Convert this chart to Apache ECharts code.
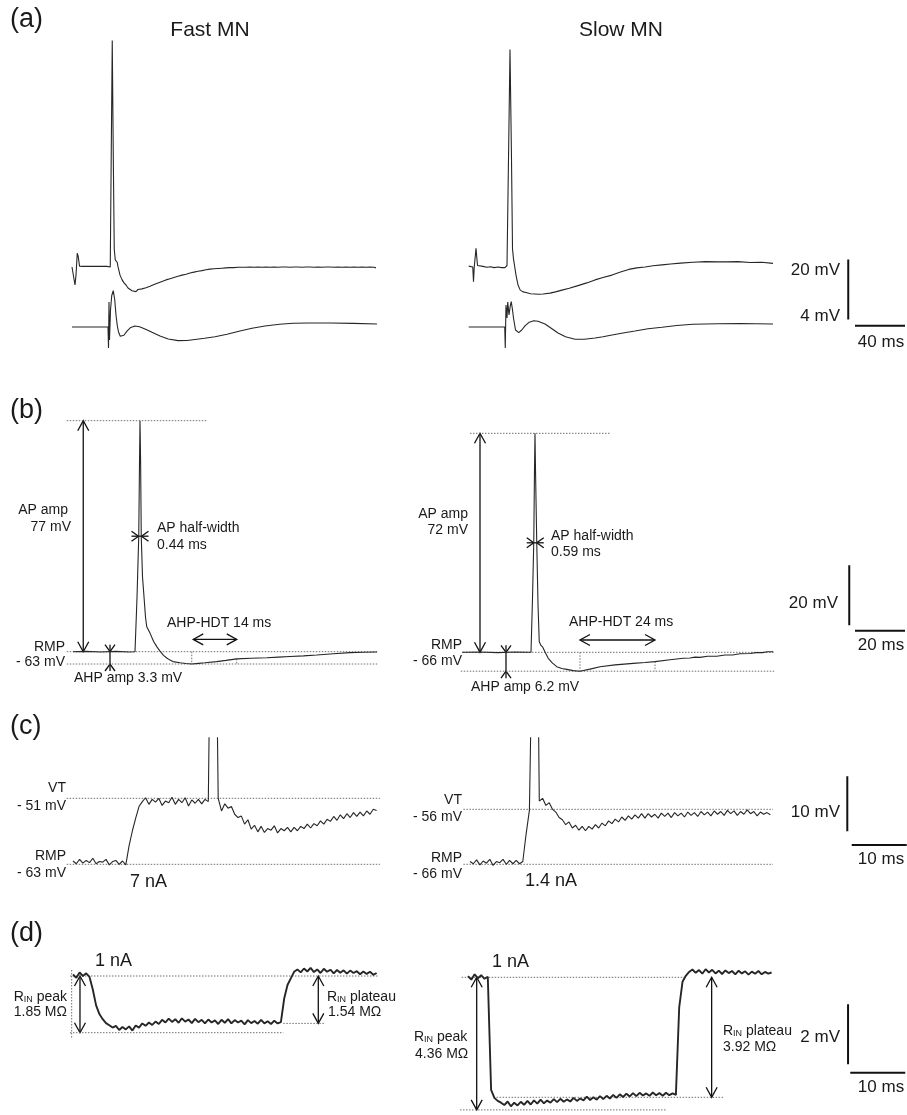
<!DOCTYPE html>
<html><head><meta charset="utf-8">
<script src="https://cdn.jsdelivr.net/npm/echarts@6/dist/echarts.min.js"></script>
<style>html,body{margin:0;padding:0;background:#fff}#c{width:907px;height:1115px}</style>
</head><body><div id="c"></div>
<script>
// ---------------- DATA ----------------
// (a) Fast MN: [ms, mV] membrane potential up to the spike shoulder
const aFastTop = [[0,-63],[1.2,-63.3],[2.4,-69],[3.2,-65.7],[4.2,-58.4],[5,-59.5],[6,-62.7],[7.2,-63.1],
 [8.8,-62.8],[10.4,-63.3],[12,-62.8],[13.6,-63.3],[15.2,-62.8],[16.8,-63.3],[18.4,-62.8],[20,-63.3],[21.6,-62.8],[23.2,-63.3],[24.8,-62.8],[26.4,-63.3],[28,-62.8],[29.6,-63.3],[30.6,-63],
 [31.4,-25],[32.2,12.5],[33,-25],[33.8,-57],[34.6,-60.6],[35.6,-60.2],[36.2,-61.5]];
// (a) Fast MN recovery, sampled every 1.6 ms from 36.8 ms (mV)
const aFastRecT0 = 36.8, aFastRecDT = 1.6;
const aFastRec = [-62.9,-65.7,-67.2,-68.3,-69.0,-70.0,-70.0,-70.9,-70.5,-71.2,-70.5,-71.0,-70.3,-70.7,-69.9,-70.3,-69.4,-69.7,-68.8,-69.1,
 -68.3,-68.6,-67.8,-68.2,-67.3,-67.7,-66.9,-67.3,-66.5,-66.9,-66.1,-66.5,-65.7,-66.2,-65.4,-65.8,-65.0,-65.4,-64.7,-65.2,
 -64.4,-64.9,-64.2,-64.6,-63.9,-64.4,-63.7,-64.2,-63.6,-64.0,-63.5,-63.8,-63.4,-63.7,-63.3,-63.6,-63.2,-63.5,-63.2,-63.5,
 -63.1,-63.4,-63.1,-63.4,-63.1,-63.4,-63.0,-63.4,-63.1,-63.4,-63.0,-63.4,-63.1,-63.3,-63.0,-63.4,-63.1,-63.4,-63.0,-63.4,
 -63.1,-63.4,-63.0,-63.3,-63.0,-63.4,-63.1,-63.4,-63.0,-63.3,-63.0,-63.4,-63.1,-63.4,-63.0,-63.3,-63.0,-63.4,-63.1,-63.4,
 -63.0,-63.4,-63.1,-63.3,-63.0,-63.4,-63.0,-63.4,-63.1,-63.4,-63.0,-63.3,-63.1,-63.4,-63.0,-63.4,-63.1,-63.4,-63.0,-63.3,
 -63.1,-63.4,-63.0,-63.4,-63.1,-63.4,-63.0,-63.4,-63.1,-63.3];
const aFastBot = [[0,0],[28.8,0],[29.2,-1.4],[29.6,1.67],[30,-0.87],[30.8,1.13],[31.8,2.1],[33,2.42],[34.2,1.8],[35.2,0.8],[36.2,0.1],[37.2,-0.33],[38.6,-0.62],[39.8,-0.69],[41.5,-0.55],[44,-0.27],[47,-0.03],[50.4,0.07],[54,0.02],[58.4,-0.13],[64,-0.35],[70.4,-0.6],[77,-0.8],[84.8,-0.91],[92,-0.9],[98.4,-0.83],[106,-0.75],[114.4,-0.65],[124,-0.48],[134.4,-0.27],[144,-0.08],[154.4,0.07],[166,0.18],[176.8,0.25],[190,0.27],[206.4,0.27],[225,0.24],[244,0.2]];
// (a) Slow MN
const aSlowTop = [[0.6,-65.7],[2,-66],[3.8,-66],[4.4,-70.9],[5,-66],[6.4,-59.8],[7.6,-65.5],[8.8,-66],[12,-65.8],[15,-66.1],[18,-65.9],[21,-66.2],[24,-66],[27,-66.2],[29.6,-66.2],[31.2,-65.5],[32.4,-30],[33.6,6.5],[34.8,-30],[35.6,-60],[36.4,-63.3],[37.4,-66],[38.4,-68.7],[40,-72],[41.8,-73.7],[44,-74.3],[46.4,-74.5],[50,-74.9],[53.5,-75],[56.6,-75.1],[60,-75],[65.6,-74.7],[70,-74.3],[75.2,-73.7],[81,-73.1],[88,-72.2],[95,-71.3],[101.6,-70.3],[108,-69.5],[115.2,-68.7],[122,-67.7],[128.6,-66.8],[135,-66.3],[141.6,-66],[148,-65.6],[155.2,-65.3],[162,-65],[170,-64.7],[180,-64.4],[190,-64.2],[200,-64.3],[207.2,-64.3],[216,-64.2],[225.6,-64.5],[235,-64.4],[244,-64.8]];
const aSlowBot = [[0.6,0],[29.4,0],[29.8,-1.4],[30.4,1.47],[31.2,0.6],[31.8,1.67],[32.8,0.8],[33.8,1.4],[34.6,1.69],[35.5,1.2],[36.4,0.6],[38,-0.2],[40.6,-0.38],[43,-0.2],[45.6,0.07],[49,0.32],[52.6,0.42],[56,0.38],[61.6,0.2],[66,-0.05],[72,-0.4],[78,-0.65],[85.6,-0.82],[93,-0.82],[101.6,-0.73],[108,-0.65],[115.2,-0.53],[124,-0.4],[133.6,-0.27],[144,-0.12],[155.2,-0.02],[167,0.1],[180,0.18],[200,0.22],[217.6,0.23],[230,0.22],[244,0.2]];
const aScaleV = [[304.2,-63.5],[304.2,-83.5]];   // 20 mV / 4 mV
const aScaleH = [[309.6,-85.6],[349.6,-85.6]];   // 40 ms

// (b) single action potentials [ms, mV]
const bFast = [[2.8,-63],[8,-62.9],[14,-63.1],[20,-62.9],[25,-63.1],[27.6,-63],[28.4,-45],[29.1,-24.5],[29.4,0],[29.6,14],[29.85,0],[30.1,-24.5],[30.6,-38],[31.2,-44.7],[31.8,-51.5],[32.3,-54.7],[32.6,-54.5],[33.6,-56.8],[35,-59.5],[36.3,-61.3],[37.6,-62.8],[39,-64.2],[40.3,-65.1],[41.6,-65.8],[42.8,-66.3],[45.6,-66.7],[48,-66.95],[50.3,-67.1],[53,-66.9],[55.6,-66.7],[60.3,-66.3],[64,-65.9],[68.3,-65.4],[74,-65.2],[80.3,-65],[85,-64.8],[89.6,-64.6],[95,-64.4],[100.3,-64.1],[107,-63.7],[113.6,-63.3],[119,-63.2],[124.4,-63.1]];
const bSlow = [[0.8,-66],[8,-65.9],[15,-66.1],[22,-65.9],[28.4,-66],[29,-48],[29.5,-29.5],[29.8,-5],[30,7],[30.2,-5],[30.7,-29.5],[31.2,-50],[31.7,-62.5],[32.3,-63.6],[33.1,-64.3],[34.2,-66.2],[35.3,-68],[37,-69.6],[38.7,-70.8],[40.7,-71.4],[42.7,-71.7],[45.3,-72.1],[48,-72.3],[52,-71.6],[56,-70.8],[62,-70.2],[69.3,-69.7],[74,-69.4],[78,-69.1],[84,-68.5],[89.3,-68],[92,-67.9],[94,-67.6],[96,-67.7],[99,-67.3],[102.7,-67.3],[106,-66.9],[109,-66.9],[112,-66.5],[116,-66.4],[118.5,-66.1],[121,-66.1],[123,-65.8],[125.3,-65.8]];
const bFastPeakLine = [[0.3,14],[56.3,14]];
const bFastRmpLine  = [[0.3,-63],[124.8,-63]];
const bFastAhpLine  = [[0.3,-67.1],[124.8,-67.1]];
const bFastTicks    = [[[50.3,-63],[50.3,-67.1]],[[68.3,-65.4],[68.3,-67.1]]];
const bSlowPeakLine = [[4,7],[60.3,7]];
const bSlowRmpLine  = [[1.2,-66],[126,-66]];
const bSlowAhpLine  = [[0.3,-72.3],[126,-72.3]];
const bSlowTicks    = [[[48,-66],[48,-72.3]],[[78,-69.1],[78,-72.3]]];
// arrows: [x1,y1,x2,y2, mode] mode 0 = outward heads, 1 = inward chevrons
const bFastArrows = [[6.9,-63,6.9,14,0],[17.6,-63,17.6,-67.1,1],[29.0,-24.5,30.2,-24.5,1],[50.9,-58.9,68.3,-58.9,0]];
const bSlowArrows = [[8,-66,8,7,0],[18.4,-66,18.4,-72.3,1],[29.5,-29.5,30.7,-29.5,1],[48,-61.9,78,-61.9,0]];
const bScaleV = [[155.7,-37],[155.7,-57]];  // 20 mV
const bScaleH = [[158,-58.8],[178,-58.8]];  // 20 ms

// (c) threshold, sampled every 0.6 ms (mV)
const DT = 0.6;
const cFast = [-62.4,-62.9,-62.1,-62.8,-62.3,-62.7,-61.9,-62.9,-62.5,-62.6,-62.1,-63.1,-62.5,-62.3,-63.0,-62.4,-63.1,-59.6,-56.9,-54.6,
 -52.5,-51.6,-50.9,-52.1,-51.2,-51.7,-51.0,-52.3,-51.5,-51.8,-50.8,-52.1,-51.2,-51.8,-50.9,-52.4,-51.3,-51.9,-51.2,-52.0,
 -51.2,-51.6,0,0,-51.0,-53.3,-52.0,-52.8,-52.5,-53.9,-54.5,-54.2,-55.7,-54.9,-56.6,-55.9,-57.1,-56.1,-57.2,-56.5,
 -56.8,-56.0,-57.3,-56.5,-56.9,-56.3,-57.1,-56.3,-56.9,-56.1,-56.5,-55.7,-56.4,-55.6,-56.0,-55.1,-55.7,-54.8,-55.2,-54.3,
 -55.0,-54.0,-54.7,-53.8,-54.5,-53.6,-54.3,-53.5,-54.2,-53.3,-53.9,-53.0,-53.2];
const cSlow = [-65.5,-65.9,-65.2,-66.1,-65.4,-65.8,-65.1,-66.2,-65.5,-65.7,-65.1,-66.0,-65.3,-65.9,-65.3,-65.9,-65.5,-60.5,-56.2,-20,
 5,-54.5,-54.0,-55.3,-54.8,-56.0,-56.5,-57.5,-57.9,-58.8,-58.3,-59.4,-58.9,-59.8,-59.1,-59.9,-59.1,-59.6,-58.8,-59.4,
 -58.5,-59.0,-58.1,-58.6,-57.8,-58.3,-57.4,-58.0,-57.2,-57.8,-57.0,-57.6,-56.8,-57.6,-56.8,-57.4,-56.9,-57.6,-56.7,-57.3,
 -56.7,-57.5,-56.6,-57.2,-56.7,-57.4,-56.5,-57.1,-56.6,-57.3,-56.4,-57.0,-56.5,-57.2,-56.3,-56.9,-56.4,-57.1,-56.2,-56.8,
 -56.3,-57.1,-56.4,-56.9,-56.1,-56.8,-56.4,-57.2,-56.5,-56.9,-56.6,-57.0];
const cFastVT  = [[-1.15,-51],[55.8,-51]];
const cFastRMP = [[-1.15,-63],[55.8,-63]];
const cSlowVT  = [[-1.2,-56],[55.1,-56]];
const cSlowRMP = [[-1.2,-66],[55.1,-66]];
const cScaleV = [[68.6,-50],[68.6,-60]];   // 10 mV
const cScaleH = [[69.4,-62.5],[79.4,-62.5]]; // 10 ms

// (d) input resistance, sampled every 0.6 ms (mV from rest)
const dFast = [0.05,-0.06,0.12,0.0,0.09,-0.03,-0.45,-0.98,-1.27,-1.44,-1.57,-1.64,-1.72,-1.66,-1.80,-1.70,-1.78,-1.68,-1.82,-1.65,
 -1.72,-1.58,-1.66,-1.55,-1.63,-1.52,-1.60,-1.46,-1.55,-1.42,-1.53,-1.44,-1.56,-1.41,-1.52,-1.45,-1.57,-1.43,-1.54,-1.46,
 -1.58,-1.45,-1.55,-1.48,-1.60,-1.46,-1.56,-1.44,-1.58,-1.47,-1.55,-1.49,-1.61,-1.47,-1.57,-1.50,-1.59,-1.46,-1.58,-1.51,
 -1.60,-1.49,-1.58,-1.54,-0.75,-0.30,-0.08,0.14,0.22,0.12,0.25,0.15,0.27,0.13,0.22,0.10,0.24,0.14,0.21,0.09,
 0.20,0.11,0.19,0.08,0.18,0.10,0.16,0.06,0.15,0.07,0.14,0.04,0.10];
const dSlow = [0.04,-0.08,0.10,-0.03,0.07,-0.05,0.02,-3.75,-4.02,-4.12,-4.18,-4.26,-4.14,-4.30,-4.18,-4.27,-4.15,-4.25,-4.12,-4.24,
 -4.10,-4.21,-4.08,-4.20,-4.11,-4.18,-4.06,-4.16,-4.05,-4.15,-4.07,-4.14,-4.02,-4.12,-4.04,-4.10,-3.98,-4.09,-4.00,-4.08,
 -3.96,-4.06,-3.95,-4.04,-3.92,-4.02,-3.90,-3.99,-3.88,-3.97,-3.86,-3.96,-3.85,-3.94,-3.87,-3.95,-3.84,-3.93,-3.86,-3.95,
 -3.85,-3.93,-3.87,-3.92,-1.00,-0.15,0.05,0.18,0.26,0.15,0.24,0.12,0.27,0.16,0.25,0.13,0.22,0.11,0.23,0.14,
 0.21,0.10,0.22,0.13,0.20,0.09,0.19,0.12,0.21,0.10,0.18,0.12,0.16];
const dFastTop  = [[-0.55,0],[55.45,0]];
const dFastPlat = [[38.24,-1.58],[45.8,-1.58]];
const dFastBot  = [[-0.55,-1.89],[38.24,-1.89]];
const dFastTick = [[-0.24,0.2],[-0.24,-2.07]];
const dFastArrows = [[1.27,0,1.27,-1.89,0],[44.6,0,44.6,-1.58,0]];
const dSlowTop  = [[-1.15,0],[39.76,0]];
const dSlowPlat = [[5.2,-4.0],[46.4,-4.0]];
const dSlowBot  = [[-1.45,-4.42],[36.1,-4.42]];
const dSlowArrows = [[1.58,0,1.58,-4.42,0],[44.3,0,44.3,-4.0,0]];
const dScaleV = [[69.1,-0.9],[69.1,-2.9]];   // 2 mV
const dScaleH = [[69.5,-3.18],[79.5,-3.18]]; // 10 ms

// ---------------- BUILD ----------------
const FAM = '"Liberation Sans", Arial, Helvetica, sans-serif';
const TRACE = '#262626';
const grids = [], xAxes = [], yAxes = [], series = [], graphics = [];

function panel(ox, oy, base, k, ky, xmin, xmax, ymin, ymax) {
  const gi = grids.length;
  grids.push({left: ox + xmin * k, top: oy - (ymax - base) * ky, width: (xmax - xmin) * k, height: (ymax - ymin) * ky});
  xAxes.push({type: 'value', gridIndex: gi, min: xmin, max: xmax, show: false});
  yAxes.push({type: 'value', gridIndex: gi, min: ymin, max: ymax, show: false});
  return {g: gi, x: xAxes.length - 1, y: yAxes.length - 1};
}
function addY(p, ymin, ymax) {
  yAxes.push({type: 'value', gridIndex: p.g, min: ymin, max: ymax, show: false});
  return {g: p.g, x: p.x, y: yAxes.length - 1};
}
function line(p, data, ls) {
  series.push({type: 'line', xAxisIndex: p.x, yAxisIndex: p.y, data: data, symbol: 'none', silent: true,
    animation: false, lineStyle: Object.assign({color: TRACE, width: 1.1}, ls || {})});
}
function trace(p, data, w) { line(p, data, {width: w || 1.1}); }
function sampled(p, arr, w, t0, dt) { trace(p, arr.map((v, i) => [(t0 || 0) + i * (dt || DT), v]), w); }
function dotted(p, data) { line(p, data, {color: '#707070', width: 1, type: [1.5, 1.5]}); }
function bar(p, data) { line(p, data, {color: '#111', width: 2}); }
function arrows(p, items) {
  series.push({type: 'custom', xAxisIndex: p.x, yAxisIndex: p.y, silent: true, animation: false, clip: false,
    dimensions: ['x1', 'y1', 'x2', 'y2', 'm'], encode: {x: [0, 2], y: [1, 3]}, data: items,
    renderItem: function (params, api) {
      const a = api.coord([api.value(0), api.value(1)]);
      const b = api.coord([api.value(2), api.value(3)]);
      const mode = api.value(4);
      const dx = b[0] - a[0], dy = b[1] - a[1], L = Math.hypot(dx, dy) || 1;
      const ux = dx / L, uy = dy / L, nx = -uy, ny = ux;
      const st = {stroke: '#111', lineWidth: 1.3, fill: 'none'};
      const ch = [];
      if (mode === 0) {
        const h = 10, w = 5.5;
        ch.push({type: 'line', shape: {x1: a[0], y1: a[1], x2: b[0], y2: b[1]}, style: st});
        ch.push({type: 'polyline', shape: {points: [[a[0] + ux * h + nx * w, a[1] + uy * h + ny * w], a, [a[0] + ux * h - nx * w, a[1] + uy * h - ny * w]]}, style: st});
        ch.push({type: 'polyline', shape: {points: [[b[0] - ux * h + nx * w, b[1] - uy * h + ny * w], b, [b[0] - ux * h - nx * w, b[1] - uy * h - ny * w]]}, style: st});
      } else {
        const e = 7, h = 7, w = 5;
        ch.push({type: 'line', shape: {x1: a[0] - ux * e, y1: a[1] - uy * e, x2: b[0] + ux * e, y2: b[1] + uy * e}, style: st});
        ch.push({type: 'polyline', shape: {points: [[a[0] - ux * h + nx * w, a[1] - uy * h + ny * w], a, [a[0] - ux * h - nx * w, a[1] - uy * h - ny * w]]}, style: st});
        ch.push({type: 'polyline', shape: {points: [[b[0] + ux * h + nx * w, b[1] + uy * h + ny * w], b, [b[0] + ux * h - nx * w, b[1] + uy * h - ny * w]]}, style: st});
      }
      return {type: 'group', children: ch};
    }});
}
function T(x, y, text, size, align, rich) {
  const st = {text: text, fill: '#1a1a1a', font: size + 'px ' + FAM, fontSize: size, fontFamily: FAM,
    textAlign: align || 'left', align: align || 'left', textVerticalAlign: 'middle', verticalAlign: 'middle'};
  if (rich) st.rich = {s: {fontSize: 9, fontFamily: FAM, font: '9px ' + FAM, fill: '#1a1a1a', verticalAlign: 'bottom', lineHeight: 4}};
  graphics.push({type: 'text', x: x, y: y, silent: true, style: st});
}

// row (a)
const aF = panel(72, 267, -63, 1.25, 3, 0, 248, -93, 17);
const aF2 = addY(aF, -2, 20);
trace(aF, aFastTop.concat(aFastRec.map((v, i) => [aFastRecT0 + i * aFastRecDT, v])), 1.1);
trace(aF2, aFastBot);
const aS = panel(468, 267, -66, 1.25, 3, 0, 351.2, -96, 14);
const aS2 = addY(aS, -2, 20);
trace(aS, aSlowTop); trace(aS2, aSlowBot);
bar(aS, aScaleV); bar(aS, aScaleH);

// row (b)
const bF = panel(66, 651.7, -63, 2.5, 3, 0, 126, -73, 17);
dotted(bF, bFastPeakLine); dotted(bF, bFastRmpLine); dotted(bF, bFastAhpLine);
bFastTicks.forEach(t => dotted(bF, t));
trace(bF, bFast); arrows(bF, bFastArrows);
const bS = panel(460, 652.3, -66, 2.5, 3, 0, 178.8, -76, 14);
dotted(bS, bSlowPeakLine); dotted(bS, bSlowRmpLine); dotted(bS, bSlowAhpLine);
bSlowTicks.forEach(t => dotted(bS, t));
trace(bS, bSlow); arrows(bS, bSlowArrows);
bar(bS, bScaleV); bar(bS, bScaleH);

// row (c)
const cF = panel(73, 864.3, -63, 5.5, 5.5, -1.5, 57, -66.5, -40);
dotted(cF, cFastVT); dotted(cF, cFastRMP); sampled(cF, cFast, 1.1);
const cS = panel(470, 864.3, -66, 5.5, 5.5, -1.5, 79.4, -69.5, -43);
dotted(cS, cSlowVT); dotted(cS, cSlowRMP); sampled(cS, cSlow, 1.1);
bar(cS, cScaleV); bar(cS, cScaleH);

// row (d)
const dF = panel(73, 976, 0, 5.5, 30, -1, 56, -4.6, 1);
dotted(dF, dFastTop); dotted(dF, dFastPlat); dotted(dF, dFastBot); dotted(dF, dFastTick);
sampled(dF, dFast, 1.9); arrows(dF, dFastArrows);
const dS = panel(468, 977.3, 0, 5.5, 30, -1.5, 79.6, -4.55, 1);
dotted(dS, dSlowTop); dotted(dS, dSlowPlat); dotted(dS, dSlowBot);
sampled(dS, dSlow, 1.9); arrows(dS, dSlowArrows);
bar(dS, dScaleV); bar(dS, dScaleH);

// texts
T(10, 20, '(a)', 27);
T(210, 30, 'Fast MN', 21, 'center'); T(621, 30, 'Slow MN', 21, 'center');
T(840, 270, '20 mV', 17, 'right'); T(840, 316, '4 mV', 17, 'right'); T(881, 342, '40 ms', 17, 'center');
T(10, 411, '(b)', 27);
T(68, 510, 'AP amp', 14, 'right'); T(71, 527, '77 mV', 14, 'right');
T(157, 528, 'AP half-width', 14); T(157, 545, '0.44 ms', 14);
T(167, 623, 'AHP-HDT 14 ms', 14);
T(65, 647, 'RMP', 14, 'right'); T(65, 662, '- 63 mV', 14, 'right');
T(74, 678, 'AHP amp 3.3 mV', 14);
T(468, 514, 'AP amp', 14, 'right'); T(468, 530, '72 mV', 14, 'right');
T(551, 536, 'AP half-width', 14); T(551, 552, '0.59 ms', 14);
T(569, 622, 'AHP-HDT 24 ms', 14);
T(462, 645, 'RMP', 14, 'right'); T(462, 661, '- 66 mV', 14, 'right');
T(471, 687, 'AHP amp 6.2 mV', 14);
T(838, 603, '20 mV', 17, 'right'); T(881, 645, '20 ms', 17, 'center');
T(10, 727, '(c)', 27);
T(66, 788, 'VT', 14, 'right'); T(66, 806, '- 51 mV', 14, 'right');
T(66, 856, 'RMP', 14, 'right'); T(66, 873, '- 63 mV', 14, 'right');
T(130, 882, '7 nA', 18);
T(462, 800, 'VT', 14, 'right'); T(462, 817, '- 56 mV', 14, 'right');
T(462, 858, 'RMP', 14, 'right'); T(462, 874, '- 66 mV', 14, 'right');
T(525, 881, '1.4 nA', 18);
T(840, 812, '10 mV', 17, 'right'); T(881, 859, '10 ms', 17, 'center');
T(10, 934, '(d)', 27);
T(95, 961, '1 nA', 18); T(492, 962, '1 nA', 18);
T(67, 997, 'R{s|IN} peak', 14, 'right', true); T(67, 1012, '1.85 MΩ', 14, 'right');
T(327, 997, 'R{s|IN} plateau', 14, 'left', true); T(328, 1012, '1.54 MΩ', 14);
T(414, 1037, 'R{s|IN} peak', 14, 'left', true); T(415, 1054, '4.36 MΩ', 14);
T(723, 1031, 'R{s|IN} plateau', 14, 'left', true); T(723, 1047, '3.92 MΩ', 14);
T(840, 1037, '2 mV', 17, 'right'); T(881, 1087, '10 ms', 17, 'center');

const chart = echarts.init(document.getElementById('c'), null, {renderer: 'canvas'});
chart.setOption({animation: false, backgroundColor: '#fff', grid: grids, xAxis: xAxes, yAxis: yAxes, series: series, graphic: {elements: graphics}});
</script>
</body></html>
